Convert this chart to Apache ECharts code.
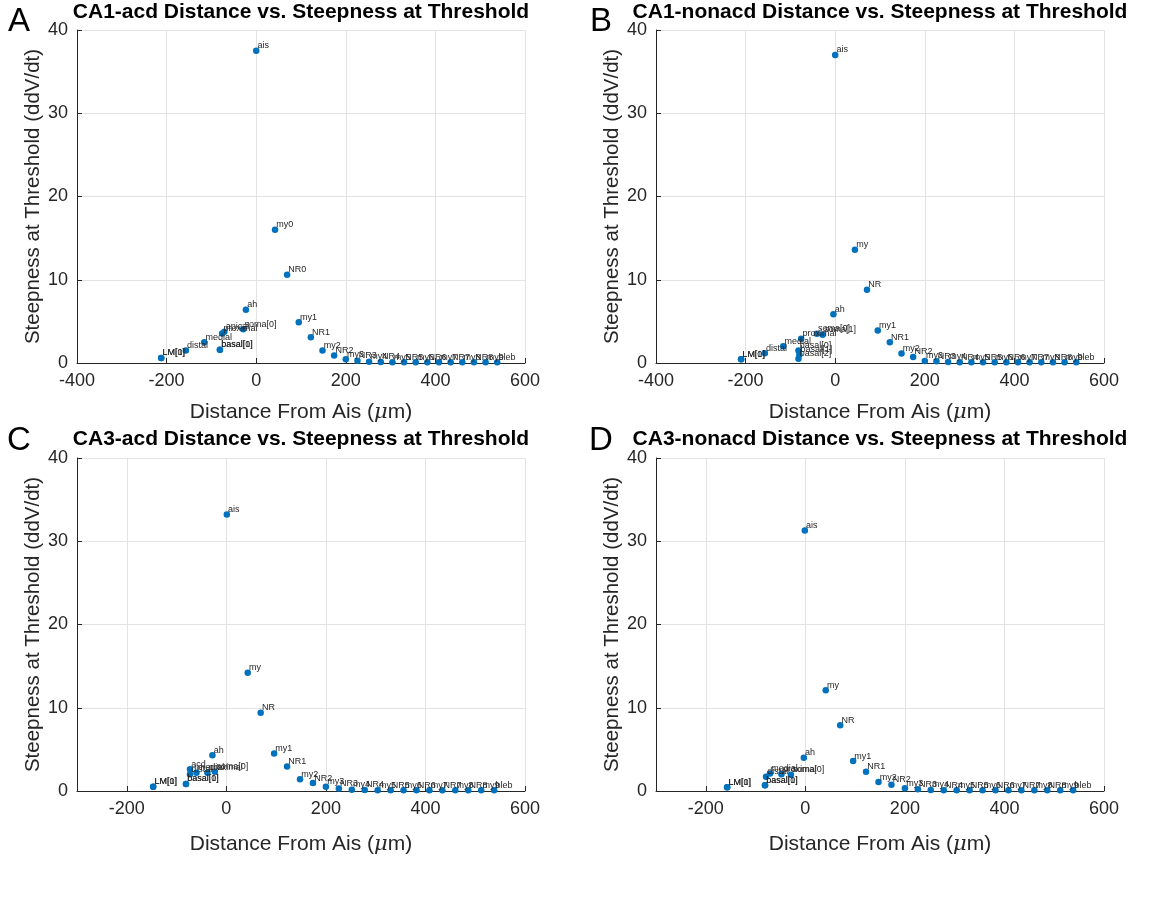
<!DOCTYPE html>
<html>
<head>
<meta charset="utf-8">
<script src="https://cdn.jsdelivr.net/npm/echarts@6/dist/echarts.min.js"></script>
<style>
html,body{margin:0;padding:0;background:#fff;}
#chart{width:1156px;height:906px;}
</style>
</head>
<body>
<div id="chart"></div>
<script>
// ---------- DATA ----------
const tail_names = ['my3','NR3','my4','NR4','my5','NR5','my6','NR6','my7','NR7','my8','NR8','my9','bleb'];
const tail_x = [200,226,252,278,304,330,356,382,408,434,460,486,512,538];

const A_title = 'CA1-acd Distance vs. Steepness at Threshold';
const A_names = ['LM[0]','LM[1]','distal','medial','basal[0]','basal[1]','proximal','apical','soma[0]','ah','ais','my0','NR0','my1','NR1','my2','NR2'].concat(tail_names);
const A_x = [-212,-212,-157,-116,-81,-81,-76,-71,-29,-23,0,42,69,95,122,148,174].concat(tail_x);
const A_y = [0.6,0.6,1.5,2.5,1.6,1.6,3.55,3.75,4.06,6.4,37.5,16.0,10.6,4.9,3.1,1.5,0.9,
             0.45,0.28,0.15,0.12,0.1,0.1,0.1,0.1,0.1,0.1,0.1,0.1,0.1,0.1];

const B_title = 'CA1-nonacd Distance vs. Steepness at Threshold';
const B_names = ['LM[0]','LM[1]','distal','medial','basal[0]','basal[1]','basal[2]','proximal','soma[0]','soma[1]','ah','ais','my','NR','my1','NR1','my2','NR2'].concat(tail_names);
const B_x = [-210,-210,-157,-116,-82,-80,-82,-76,-41,-28,-4,0,44,71,95,122,148,174].concat(tail_x);
const B_y = [0.44,0.44,1.16,2.0,1.5,1.0,0.5,2.9,3.5,3.4,5.85,37.0,13.6,8.8,3.9,2.5,1.15,0.72,
             0.24,0.2,0.12,0.1,0.1,0.1,0.1,0.1,0.1,0.1,0.1,0.1,0.1,0.1];

const C_title = 'CA3-acd Distance vs. Steepness at Threshold';
const C_names = ['LM[0]','LM[1]','basal[0]','basal[1]','acd','distal','medial','proximal','soma[0]','ah','ais','my','NR','my1','NR1','my2','NR2'].concat(tail_names);
const C_x = [-147,-147,-81,-81,-73,-73,-60,-38,-23,-28,1,43,69,96,122,148,174].concat(tail_x);
const C_y = [0.5,0.5,0.84,0.84,2.6,2.0,2.2,2.2,2.3,4.3,33.2,14.2,9.4,4.5,2.95,1.4,0.95,
             0.5,0.3,0.15,0.12,0.1,0.1,0.1,0.1,0.1,0.1,0.1,0.1,0.1,0.1];

const D_title = 'CA3-nonacd Distance vs. Steepness at Threshold';
const D_names = ['LM[0]','LM[1]','basal[0]','basal[1]','distal','medial','proximal','soma[0]','ah','ais','my','NR','my1','NR1','my2','NR2'].concat(tail_names);
const D_x = [-157,-157,-81,-81,-79,-71,-48,-29,-3,-1,41,70,96,122,147,173].concat(tail_x);
const D_y = [0.44,0.44,0.68,0.68,1.7,2.1,2.0,1.95,4.0,31.3,12.1,7.9,3.6,2.3,1.07,0.75,
             0.32,0.2,0.12,0.1,0.1,0.1,0.1,0.1,0.1,0.1,0.1,0.1,0.1,0.1];

const y_ticks = [0,10,20,30,40];
const xAB_ticks = [-400,-200,0,200,400,600];
const xCD_ticks = [-200,0,200,400,600];
const x_name = 'Distance From Ais ({mu|μ}m)';
const y_name = 'Steepness at Threshold (ddV/dt)';

// ---------- LAYOUT ----------
const FONT = 'Liberation Sans, Arial, sans-serif';
const AX = '#262626';
const GRIDC = '#e3e3e3';
const panels = [
  {title:A_title, letter:'A', names:A_names, x:A_x, y:A_y, left:77, top:30, width:448, xmin:-400, ticks:xAB_ticks, tx:301, ty:12, lx:19, ly:22, gap:39},
  {title:B_title, letter:'B', names:B_names, x:B_x, y:B_y, left:656, top:30, width:448, xmin:-400, ticks:xAB_ticks, tx:880, ty:12, lx:601, ly:22, gap:39},
  {title:C_title, letter:'C', names:C_names, x:C_x, y:C_y, left:77, top:458, width:448, xmin:-300, ticks:xCD_ticks, tx:301, ty:439, lx:19, ly:441, gap:43},
  {title:D_title, letter:'D', names:D_names, x:D_x, y:D_y, left:656, top:458, width:448, xmin:-300, ticks:xCD_ticks, tx:880, ty:439, lx:601, ly:441, gap:43}
];
const H = 333;

const grid = [], xAxis = [], yAxis = [], series = [], graphic = [];
panels.forEach((p, i) => {
  grid.push({left:p.left, top:p.top, width:p.width, height:H, containLabel:false});
  xAxis.push({
    type:'value', gridIndex:i, min:p.xmin, max:600,
    name:x_name, nameLocation:'middle', nameGap:p.gap,
    nameTextStyle:{color:AX, fontSize:21, fontFamily:FONT,
      rich:{mu:{fontStyle:'italic', fontSize:21, color:AX, fontFamily:'DejaVu Serif, serif'}}},
    axisLine:{show:true, onZero:false, lineStyle:{color:AX, width:1}},
    axisTick:{show:true, inside:true, length:5, lineStyle:{color:AX}, customValues:p.ticks},
    axisLabel:{color:AX, fontSize:18, fontFamily:FONT, margin:9, customValues:p.ticks},
    splitLine:{show:true, lineStyle:{color:GRIDC, width:1}}
  });
  yAxis.push({
    type:'value', gridIndex:i, min:0, max:40, interval:10,
    name:y_name, nameLocation:'middle', nameGap:33,
    nameTextStyle:{color:AX, fontSize:20.5, fontFamily:FONT},
    axisLine:{show:true, onZero:false, lineStyle:{color:AX, width:1}},
    axisTick:{show:true, inside:true, length:5, lineStyle:{color:AX}},
    axisLabel:{color:AX, fontSize:18, fontFamily:FONT, margin:9},
    splitLine:{show:true, lineStyle:{color:GRIDC, width:1}}
  });
  const data = p.names.map((n, k) => ({name:n, value:[p.x[k], p.y[k]]}));
  series.push({
    type:'scatter', xAxisIndex:i, yAxisIndex:i, data:data,
    symbol:'circle', symbolSize:6.5,
    itemStyle:{color:'#0072BD', opacity:1},
    label:{show:true, position:'right', distance:0, offset:[-2,-5],
      formatter:'{b}', fontSize:9, color:'#262626', fontFamily:FONT},
    emphasis:{disabled:true},
    z:3
  });
  graphic.push({
    type:'text', x:p.tx, y:p.ty,
    style:{text:p.title, font:'bold 21px ' + FONT, fill:'#000', align:'center', verticalAlign:'middle'},
    z:10
  });
  graphic.push({
    type:'text', x:p.lx, y:p.ly,
    style:{text:p.letter, font:'33px ' + FONT, fill:'#000', align:'center', verticalAlign:'middle'},
    z:10
  });
});

const chart = echarts.init(document.getElementById('chart'), null, {renderer:'canvas'});
chart.setOption({
  backgroundColor:'#ffffff',
  animation:false,
  grid, xAxis, yAxis, series, graphic
});
</script>
</body>
</html>
